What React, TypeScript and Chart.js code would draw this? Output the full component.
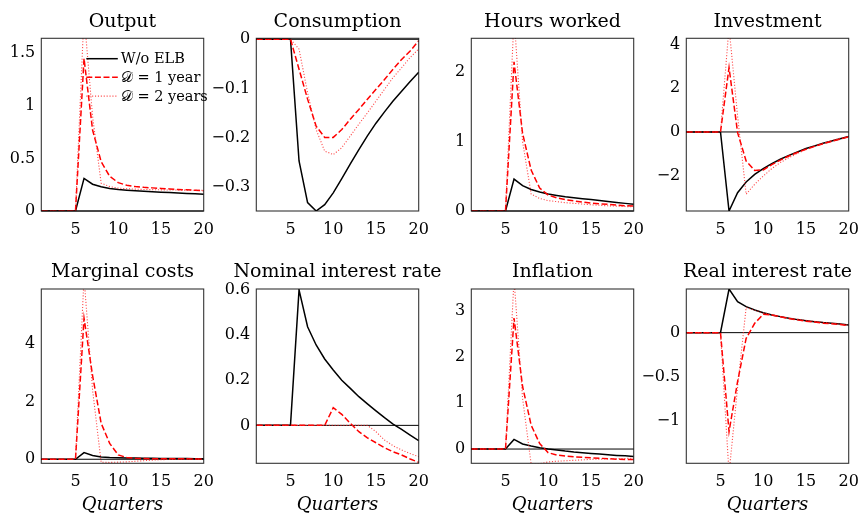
import React, { useEffect, useRef } from 'react';
import { Chart, registerables } from 'chart.js';
Chart.register(...registerables);

const quarters = [1, 2, 3, 4, 5, 6, 7, 8, 9, 10, 11, 12, 13, 14, 15, 16, 17, 18, 19, 20];
const xTicks = [5, 10, 15, 20];

const seriesLabels = ['W/o ELB', '\u{1D49F} = 1 year', '\u{1D49F} = 2 years'];
const panelTitles = ['Output', 'Consumption', 'Hours worked', 'Investment', 'Marginal costs', 'Nominal interest rate', 'Inflation', 'Real interest rate'];

const outputNoElb = [0, 0, 0, 0, 0, 0.31, 0.255, 0.23, 0.214, 0.204, 0.198, 0.192, 0.187, 0.183, 0.179, 0.175, 0.171, 0.167, 0.163, 0.159];
const output1Y = [0, 0, 0, 0, 0, 1.45, 0.77, 0.47, 0.33, 0.27, 0.245, 0.232, 0.225, 0.22, 0.215, 0.21, 0.205, 0.201, 0.197, 0.193];
const output2Y = [0, 0, 0, 0, 0, 1.87, 0.9, 0.265, 0.232, 0.218, 0.212, 0.208, 0.205, 0.203, 0.201, 0.2, 0.199, 0.198, 0.197, 0.196];

const consNoElb = [0, 0, 0, 0, 0, -0.248, -0.333, -0.35, -0.337, -0.313, -0.284, -0.254, -0.225, -0.197, -0.171, -0.148, -0.126, -0.106, -0.086, -0.067];
const cons1Y = [0, 0, 0, 0, 0, -0.061, -0.122, -0.177, -0.2, -0.2, -0.184, -0.163, -0.143, -0.122, -0.102, -0.082, -0.061, -0.041, -0.024, -0.003];
const cons2Y = [0, 0, 0, 0, 0, -0.02, -0.109, -0.184, -0.228, -0.235, -0.221, -0.197, -0.173, -0.15, -0.126, -0.102, -0.078, -0.058, -0.037, -0.02];

const hoursNoElb = [0, 0, 0, 0, 0, 0.46, 0.365, 0.31, 0.275, 0.245, 0.225, 0.207, 0.192, 0.178, 0.165, 0.152, 0.138, 0.124, 0.11, 0.097];
const hours1Y = [0, 0, 0, 0, 0, 2.15, 1.12, 0.59, 0.33, 0.23, 0.19, 0.165, 0.145, 0.13, 0.115, 0.105, 0.095, 0.085, 0.077, 0.07];
const hours2Y = [0, 0, 0, 0, 0, 2.8, 1.0, 0.245, 0.18, 0.15, 0.135, 0.12, 0.11, 0.1, 0.09, 0.082, 0.075, 0.07, 0.065, 0.06];

const invNoElb = [0, 0, 0, 0, 0, -3.62, -2.78, -2.29, -1.94, -1.68, -1.45, -1.25, -1.07, -0.92, -0.76, -0.64, -0.52, -0.41, -0.31, -0.21];
const inv1Y = [0, 0, 0, 0, 0, 2.95, -0.03, -1.33, -1.76, -1.74, -1.5, -1.29, -1.1, -0.94, -0.79, -0.66, -0.54, -0.43, -0.33, -0.22];
const inv2Y = [0, 0, 0, 0, 0, 4.8, 0.73, -2.85, -2.4, -2.02, -1.68, -1.4, -1.18, -0.98, -0.81, -0.66, -0.52, -0.4, -0.29, -0.2];

const mcNoElb = [0, 0, 0, 0, 0, 0.23, 0.13, 0.08, 0.06, 0.05, 0.045, 0.04, 0.035, 0.032, 0.03, 0.028, 0.026, 0.024, 0.022, 0.02];
const mc1Y = [0, 0, 0, 0, 0, 4.89, 2.9, 1.25, 0.55, 0.15, 0.06, 0.035, 0.025, 0.02, 0.018, 0.016, 0.015, 0.014, 0.013, 0.012];
const mc2Y = [0, 0, 0, 0, 0, 6.3, 2.4, -0.1, -0.11, -0.1, -0.09, -0.07, -0.05, -0.03, -0.015, -0.005, 0, 0.005, 0.005, 0.005];

const nomNoElb = [0, 0, 0, 0, 0, 0.6, 0.437, 0.356, 0.294, 0.245, 0.2, 0.164, 0.127, 0.095, 0.064, 0.034, 0.006, -0.018, -0.043, -0.068];
const nom1Y = [0, 0, 0, 0, 0, 0, 0, 0, 0, 0.078, 0.049, 0.009, -0.028, -0.055, -0.077, -0.099, -0.117, -0.131, -0.149, -0.164];
const nom2Y = [0, 0, 0, 0, 0, 0, 0, 0, 0, 0, 0, 0, 0, 0, -0.028, -0.065, -0.09, -0.109, -0.125, -0.139];

const infNoElb = [0, 0, 0, 0, 0, 0.21, 0.11, 0.065, 0.03, 0, -0.02, -0.045, -0.065, -0.08, -0.095, -0.11, -0.125, -0.138, -0.148, -0.16];
const inf1Y = [0, 0, 0, 0, 0, 2.85, 1.36, 0.52, 0.12, -0.08, -0.13, -0.15, -0.17, -0.18, -0.19, -0.2, -0.21, -0.22, -0.225, -0.23];
const inf2Y = [0, 0, 0, 0, 0, 3.7, 1.1, -0.33, -0.32, -0.28, -0.265, -0.255, -0.245, -0.235, -0.225, -0.22, -0.215, -0.21, -0.205, -0.2];

const realNoElb = [0, 0, 0, 0, 0, 0.496, 0.352, 0.295, 0.258, 0.227, 0.2, 0.182, 0.163, 0.148, 0.136, 0.125, 0.114, 0.106, 0.098, 0.087];
const real1Y = [0, 0, 0, 0, 0, -1.125, -0.557, -0.065, 0.106, 0.208, 0.2, 0.18, 0.16, 0.145, 0.13, 0.12, 0.108, 0.1, 0.092, 0.08];
const real2Y = [0, 0, 0, 0, 0, -1.6, -0.62, 0.285, 0.255, 0.225, 0.205, 0.185, 0.168, 0.152, 0.14, 0.128, 0.117, 0.107, 0.098, 0.088];

const yMins = [0, -0.35, 0, -3.62, -0.14, -0.168, -0.31, -1.485];
const yMaxs = [1.643, 0.002, 2.49, 4.29, 5.9, 0.604, 3.48, 0.496];
const yTickSets = [
  [0, 0.5, 1, 1.5],
  [-0.3, -0.2, -0.1, 0],
  [0, 1, 2],
  [-2, 0, 2, 4],
  [0, 2, 4],
  [0, 0.2, 0.4, 0.6],
  [0, 1, 2, 3],
  [-1, -0.5, 0],
];

const allSeries = [
  [outputNoElb, output1Y, output2Y],
  [consNoElb, cons1Y, cons2Y],
  [hoursNoElb, hours1Y, hours2Y],
  [invNoElb, inv1Y, inv2Y],
  [mcNoElb, mc1Y, mc2Y],
  [nomNoElb, nom1Y, nom2Y],
  [infNoElb, inf1Y, inf2Y],
  [realNoElb, real1Y, real2Y],
];

const FONT = '"DejaVu Serif", serif';
const BLACK = '#000000';
const RED = '#ff0000';
const RED_DOT = 'rgba(255,30,30,0.8)';
const styles = [
  { color: BLACK, width: 1.5, dash: [] as number[] },
  { color: RED, width: 1.5, dash: [6, 2.6] },
  { color: RED_DOT, width: 1.1, dash: [1.1, 1.8] },
];

const CW = 255;
const SHIFT = 20;
const PLOT_LEFT = 41.3 + SHIFT;
const PLOT_W = 162.4;

function fmt(v: number) {
  const s = String(Math.abs(Math.round(v * 1000) / 1000));
  return v < 0 ? '\u2212' + s : s;
}

function Panel({ idx }: { idx: number }) {
  const ref = useRef<HTMLCanvasElement | null>(null);
  const row = idx < 4 ? 0 : 1;
  const col = idx % 4;
  const H = row === 0 ? 250 : 267;
  const plotTop = row === 0 ? 38.3 : 39;
  const plotBottom = row === 0 ? 211 : 213.3;

  useEffect(() => {
    if (!ref.current) return;
    const series = allSeries[idx];
    const datasets = series.map((vals, si) => ({
      label: seriesLabels[si],
      data: quarters.map((q, i) => ({ x: q, y: vals[i] })),
      borderColor: styles[si].color,
      borderWidth: styles[si].width,
      borderDash: styles[si].dash,
      pointRadius: 0,
      fill: false,
      tension: 0,
      order: 3 - si,
    }));

    const decor = {
      id: 'decor' + idx,
      beforeDatasetsDraw(chart: any) {
        const { ctx, chartArea } = chart;
        const y0 = chart.scales.y.getPixelForValue(0);
        ctx.save();
        ctx.strokeStyle = '#000';
        ctx.lineWidth = 1;
        ctx.beginPath();
        ctx.moveTo(chartArea.left, y0);
        ctx.lineTo(chartArea.right, y0);
        ctx.stroke();
        ctx.restore();
      },
      afterDatasetsDraw(chart: any) {
        const { ctx, chartArea } = chart;
        ctx.save();
        ctx.strokeStyle = 'rgba(0,0,0,0.8)';
        ctx.lineWidth = 1.1;
        ctx.strokeRect(chartArea.left, chartArea.top, chartArea.right - chartArea.left, chartArea.bottom - chartArea.top);
        ctx.fillStyle = '#000';
        ctx.font = '19px ' + FONT;
        ctx.textAlign = 'center';
        ctx.textBaseline = 'alphabetic';
        ctx.fillText(panelTitles[idx], (chartArea.left + chartArea.right) / 2, 27);
        if (idx === 0) {
          const x1 = chartArea.left + 45;
          const x2 = chartArea.left + 76.5;
          const rows = [chartArea.top + 20.4, chartArea.top + 38.9, chartArea.top + 57.8];
          ctx.font = '14.5px ' + FONT;
          ctx.textAlign = 'left';
          ctx.textBaseline = 'middle';
          for (let i = 0; i < 3; i++) {
            ctx.strokeStyle = styles[i].color;
            ctx.lineWidth = styles[i].width;
            ctx.setLineDash(styles[i].dash);
            ctx.beginPath();
            ctx.moveTo(x1, rows[i]);
            ctx.lineTo(x2, rows[i]);
            ctx.stroke();
            ctx.setLineDash([]);
            ctx.fillStyle = '#000';
            ctx.fillText(seriesLabels[i], x2 + 3, rows[i] + 1);
          }
        }
        ctx.restore();
      },
    };

    const chart = new Chart(ref.current, {
      type: 'line',
      data: { datasets },
      plugins: [decor],
      options: {
        animation: false,
        responsive: false,
        maintainAspectRatio: false,
        layout: { padding: { top: plotTop, right: CW - PLOT_LEFT - PLOT_W, left: 0, bottom: 0 } },
        plugins: { legend: { display: false }, tooltip: { enabled: false }, title: { display: false } },
        scales: {
          x: {
            type: 'linear',
            min: 1,
            max: 20,
            grid: { display: false, drawTicks: false },
            border: { display: false },
            afterBuildTicks: (s: any) => {
              s.ticks = xTicks.map((v) => ({ value: v }));
            },
            afterFit: (s: any) => {
              s.height = H - plotBottom;
            },
            ticks: {
              padding: 9,
              color: '#000',
              font: { family: FONT, size: 16 },
              maxRotation: 0,
              autoSkip: false,
              callback: (v: any) => String(v),
            },
            title: {
              display: row === 1,
              text: 'Quarters',
              color: '#000',
              font: { family: FONT, size: 18, style: 'italic' },
              padding: { top: 0, bottom: 1 },
            },
          },
          y: {
            type: 'linear',
            min: yMins[idx],
            max: yMaxs[idx],
            grid: { display: false, drawTicks: false },
            border: { display: false },
            afterBuildTicks: (s: any) => {
              s.ticks = yTickSets[idx].map((v) => ({ value: v }));
            },
            afterFit: (s: any) => {
              s.width = PLOT_LEFT;
            },
            ticks: {
              padding: 6,
              color: '#000',
              font: { family: FONT, size: 16 },
              autoSkip: false,
              callback: (v: any) => fmt(Number(v)),
            },
          },
        },
      } as any,
    });
    return () => chart.destroy();
  }, [idx]);

  return (
    <canvas
      ref={ref}
      width={CW}
      height={H}
      style={{
        position: 'absolute',
        left: col * 215 - SHIFT,
        top: row === 0 ? 0 : 250,
        width: CW,
        height: H,
      }}
    />
  );
}

export default function App() {
  return (
    <div
      style={{
        position: 'absolute',
        left: 0,
        top: 0,
        width: 860,
        height: 517,
        overflow: 'hidden',
        background: '#fff',
      }}
    >
      {[0, 1, 2, 3, 4, 5, 6, 7].map((i) => (
        <Panel key={i} idx={i} />
      ))}
    </div>
  );
}
